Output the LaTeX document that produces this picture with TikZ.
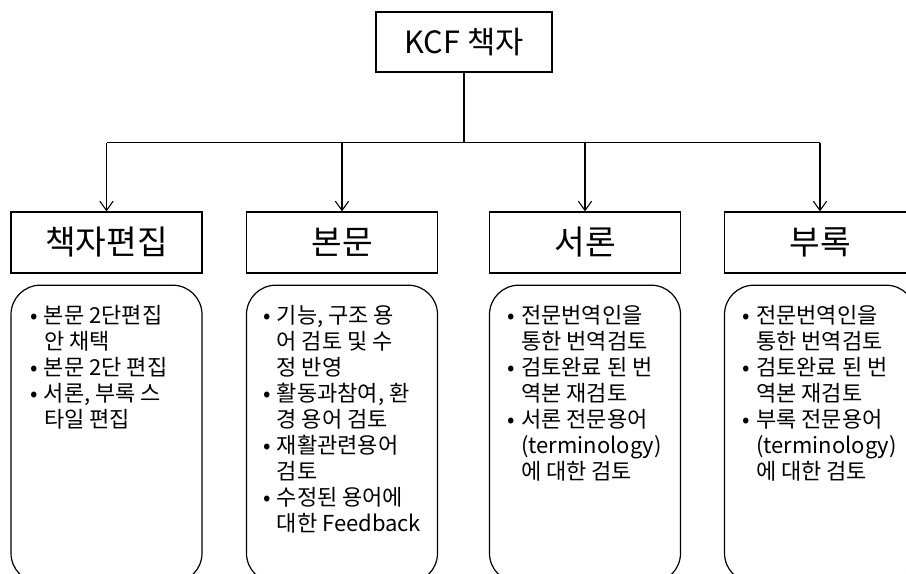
\documentclass[tikz,border=0pt]{standalone}
\usepackage{fontspec}
\setmainfont{Noto Sans CJK KR}
\usetikzlibrary{arrows.meta, positioning}
\tikzset{
  titlebox/.style = {rectangle, draw, line width=0.9pt, minimum height=45pt, minimum width=132pt, font=\fontsize{23pt}{27pt}\selectfont},
  headbox/.style = {rectangle, draw, line width=0.9pt, minimum height=45.75pt, minimum width=143.25pt, font=\fontsize{25pt}{29pt}\selectfont},
  card/.style = {rectangle, draw, line width=0.9pt, rounded corners=22pt, minimum height=223pt, minimum width=143.25pt},
  itemlist/.style = {anchor=north west, inner sep=0pt, align=left, font=\fontsize{16.5pt}{19.5pt}\selectfont},
  arrow/.style = {-{Straight Barb[length=7pt, width=10pt]}, line width=0.8pt}
}
\newcommand{\bul}{\makebox[10pt][l]{•}}
\newcommand{\ind}{\hspace*{10pt}}

\begin{document}
\begin{tikzpicture}[x=0.75pt, y=-0.75pt, node distance=8.25pt]
\useasboundingbox (0,0) rectangle (906,574);

\node[titlebox] (kcf) at (464,42) {KCF 책자};

\node[headbox] (h1) at (106.5,242.5) {책자편집};
\node[headbox] (h2) at (342,242.5) {본문};
\node[headbox] (h3) at (585,242.5) {서론};
\node[headbox] (h4) at (820,242.5) {부록};

\node[card, below=of h1] (c1) {};
\node[card, below=of h2] (c2) {};
\node[card, below=of h3] (c3) {};
\node[card, below=of h4] (c4) {};

\node[itemlist] (t1) at ([xshift=15pt, yshift=-15pt]c1.north west)
  {\bul 본문 2단편집\\ \ind 안 채택\\ \bul 본문 2단 편집\\ \bul 서론, 부록 스\\ \ind 타일 편집};
\node[itemlist] (t2) at ([xshift=13pt, yshift=-15pt]c2.north west)
  {\bul 기능, 구조 용\\ \ind 어 검토 및 수\\ \ind 정 반영\\ \bul 활동과참여, 환\\ \ind 경 용어 검토\\ \bul 재활관련용어\\ \ind 검토\\ \bul 수정된 용어에\\ \ind 대한 Feedback};
\node[itemlist] (t3) at ([xshift=14pt, yshift=-15pt]c3.north west)
  {\bul 전문번역인을\\ \ind 통한 번역검토\\ \bul 검토완료 된 번\\ \ind 역본 재검토\\ \bul 서론 전문용어\\ \ind (terminology)\\ \ind 에 대한 검토};
\node[itemlist] (t4) at ([xshift=14pt, yshift=-15pt]c4.north west)
  {\bul 전문번역인을\\ \ind 통한 번역검토\\ \bul 검토완료 된 번\\ \ind 역본 재검토\\ \bul 부록 전문용어\\ \ind (terminology)\\ \ind 에 대한 검토};

\draw[line width=0.8pt] (kcf.south) -- ++(0,70) coordinate (bus);
\draw[line width=0.8pt] (bus -| h1.north) -- (bus -| h4.north);
\draw[arrow] (bus -| h1.north) -- (h1.north);
\draw[arrow] (bus -| h2.north) -- (h2.north);
\draw[arrow] (bus -| h3.north) -- (h3.north);
\draw[arrow] (bus -| h4.north) -- (h4.north);
\end{tikzpicture}
\end{document}
